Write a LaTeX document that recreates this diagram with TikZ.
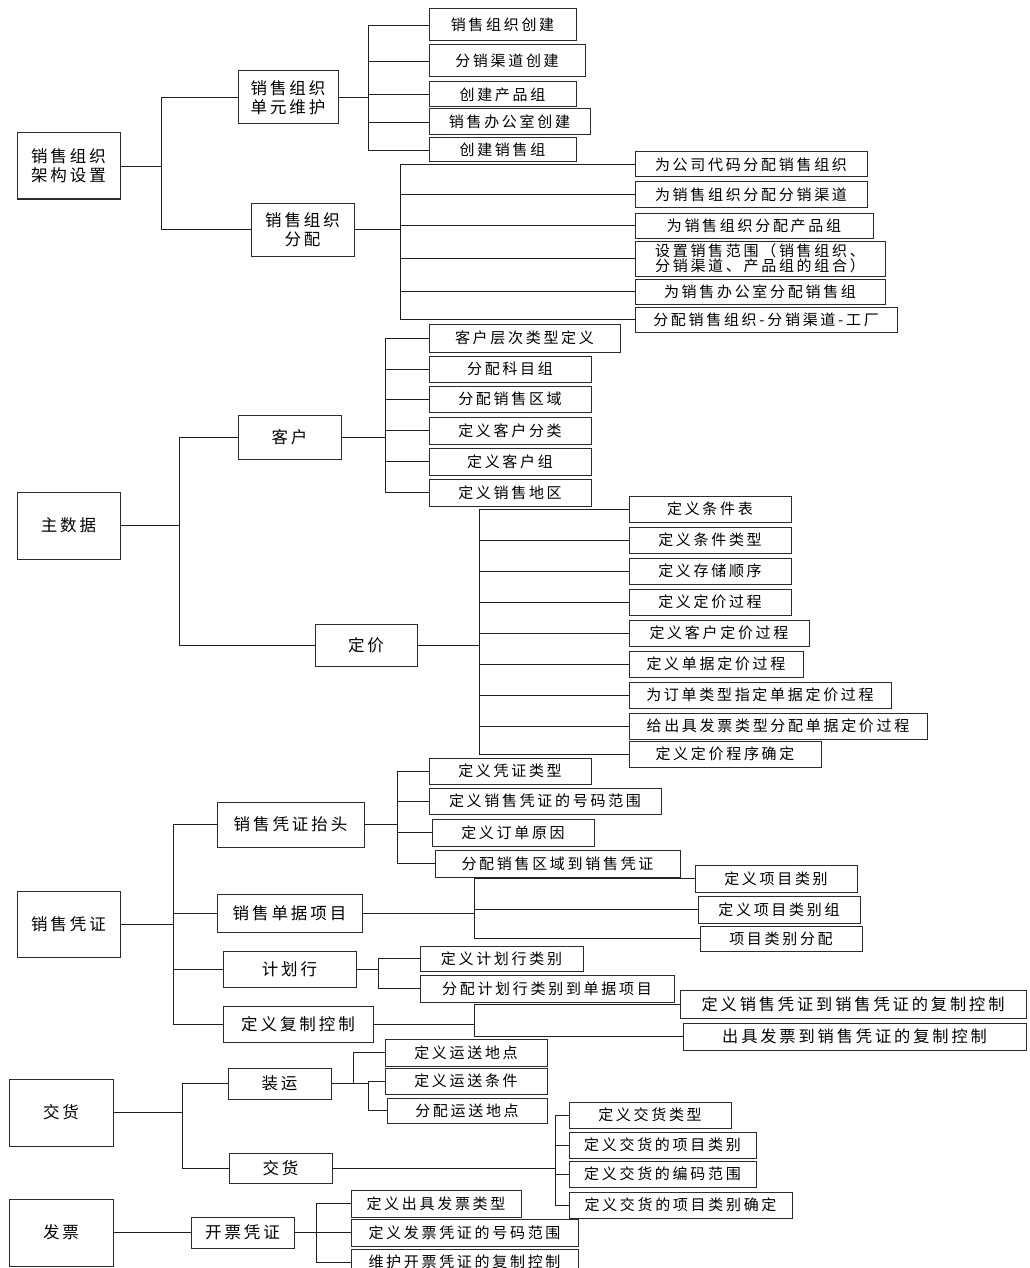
\documentclass[tikz,border=0pt]{standalone}
\usepackage{fontspec}
\setmainfont{Noto Sans CJK SC}[LetterSpace=18]
\usepackage{xcolor}
\definecolor{cfgBorder}{HTML}{2B2B2B}
\definecolor{cfgLine}{HTML}{1E1E1E}

\begin{document}
\begin{tikzpicture}[
        x=1pt, y=-1pt,
        root/.style={
            draw=cfgBorder,
            line width=1pt,
            fill=white,
            inner sep=0pt,
            minimum width=103,
            minimum height=66,
            align=center,
            font=\fontsize{16.5}{19}\selectfont
        },
        sub/.style={
            draw=cfgBorder,
            line width=1pt,
            fill=white,
            inner sep=0pt,
            minimum width=103,
            align=center,
            font=\fontsize{16.5}{19}\selectfont
        },
        leaf/.style={
            draw=cfgBorder,
            line width=1pt,
            fill=white,
            inner sep=0pt,
            minimum width=162,
            minimum height=26,
            align=center,
            font=\fontsize{15}{16}\selectfont
        },
        link/.style={
            draw=cfgLine,
            line width=0.8pt
        },
        boldlink/.style={
            draw=cfgLine,
            line width=1.7pt
        }
    ]
    \clip (0,0) rectangle (1029,1268);

    % --- 销售组织架构设置 ---
    \node[root] (orgsetup) at (68.5,166) {销售组织\\架构设置};
    \node[sub, minimum width=100, minimum height=53] (orgunit) at (288,97.5) {销售组织\\单元维护};
    \node[sub, minimum height=53] (orgassign) at (302.5,229.5) {销售组织\\分配};

    \node[leaf, minimum width=147, minimum height=32] (ou1) at (502.5,25) {销售组织创建};
    \node[leaf, minimum width=156, minimum height=32] (ou2) at (507,61) {分销渠道创建};
    \node[leaf, minimum width=147, minimum height=25] (ou3) at (502.5,94.5) {创建产品组};
    \node[leaf, minimum width=161] (ou4) at (509.5,122) {销售办公室创建};
    \node[leaf, minimum width=147, minimum height=24] (ou5) at (502.5,150) {创建销售组};

    \node[leaf, minimum width=232, minimum height=25] (oa1) at (751,164.5) {为公司代码分配销售组织};
    \node[leaf, minimum width=232, minimum height=25] (oa2) at (751,194.5) {为销售组织分配分销渠道};
    \node[leaf, minimum width=238, minimum height=25] (oa3) at (754,225.5) {为销售组织分配产品组};
    \node[leaf, minimum width=250, minimum height=35, font=\fontsize{15}{15.5}\selectfont] (oa4) at (760,258.5)
        {设置销售范围（销售组织、\\分销渠道、产品组的组合）};
    \node[leaf, minimum width=250, minimum height=25] (oa5) at (760,291.5) {为销售办公室分配销售组};
    \node[leaf, minimum width=262, minimum height=25] (oa6) at (766,319.5) {分配销售组织-分销渠道-工厂};

    \coordinate (orgBar) at (161,166);
    \coordinate (unitBar) at (368,97.5);
    \coordinate (assignBar) at (400,229.5);
    \draw[link] (orgsetup.east) -- (orgBar);
    \draw[link] (orgBar) |- (orgunit.west);
    \draw[link] (orgBar) |- (orgassign.west);
    \draw[link] (orgunit.east) -- (unitBar);
    \draw[link] (unitBar) |- (ou1.west);
    \draw[link] (unitBar) |- (ou2.west);
    \draw[link] (unitBar) |- (ou3.west);
    \draw[link] (unitBar) |- (ou4.west);
    \draw[link] (unitBar) |- (ou5.west);
    \draw[link] (orgassign.east) -- (assignBar);
    \draw[link] (assignBar) |- (oa1.west);
    \draw[link] (assignBar) |- (oa2.west);
    \draw[link] (assignBar) |- (oa3.west);
    \draw[link] (assignBar) |- (oa4.west);
    \draw[link] (assignBar) |- (oa5.west);
    \draw[link] (assignBar) |- (oa6.west);

    % --- 主数据 ---
    \node[root, minimum height=67] (masterdata) at (68.5,525.5) {主数据};
    \node[sub, minimum height=44] (customer) at (289.5,437) {客户};
    \node[sub, minimum width=102, minimum height=42] (pricing) at (366,645) {定价};

    \node[leaf, minimum width=191, minimum height=28] (cu1) at (524.5,338) {客户层次类型定义};
    \node[leaf] (cu2) at (510,369) {分配科目组};
    \node[leaf] (cu3) at (510,399) {分配销售区域};
    \node[leaf, minimum height=27] (cu4) at (510,430.5) {定义客户分类};
    \node[leaf, minimum height=27] (cu5) at (510,461.5) {定义客户组};
    \node[leaf, minimum height=27] (cu6) at (510,492.5) {定义销售地区};

    \node[leaf] (pr1) at (710,509) {定义条件表};
    \node[leaf] (pr2) at (710,540) {定义条件类型};
    \node[leaf] (pr3) at (710,571) {定义存储顺序};
    \node[leaf] (pr4) at (710,602) {定义定价过程};
    \node[leaf, minimum width=180] (pr5) at (719,633) {定义客户定价过程};
    \node[leaf, minimum width=174] (pr6) at (716,664) {定义单据定价过程};
    \node[leaf, minimum width=262] (pr7) at (760,695) {为订单类型指定单据定价过程};
    \node[leaf, minimum width=298] (pr8) at (778,726) {给出具发票类型分配单据定价过程};
    \node[leaf, minimum width=192] (pr9) at (725,754) {定义定价程序确定};

    \coordinate (masterBar) at (179,525.5);
    \coordinate (customerBar) at (385,437);
    \coordinate (pricingBar) at (479,645);
    \draw[link] (masterdata.east) -- (masterBar);
    \draw[link] (masterBar) |- (customer.west);
    \draw[link] (masterBar) |- (pricing.west);
    \draw[link] (customer.east) -- (customerBar);
    \draw[link] (customerBar) |- (cu1.west);
    \draw[link] (customerBar) |- (cu2.west);
    \draw[link] (customerBar) |- (cu3.west);
    \draw[link] (customerBar) |- (cu4.west);
    \draw[link] (customerBar) |- (cu5.west);
    \draw[link] (customerBar) |- (cu6.west);
    \draw[link] (pricing.east) -- (pricingBar);
    \draw[link] (pricingBar) |- (pr1.west);
    \draw[link] (pricingBar) |- (pr2.west);
    \draw[link] (pricingBar) |- (pr3.west);
    \draw[link] (pricingBar) |- (pr4.west);
    \draw[link] (pricingBar) |- (pr5.west);
    \draw[link] (pricingBar) |- (pr6.west);
    \draw[link] (pricingBar) |- (pr7.west);
    \draw[link] (pricingBar) |- (pr8.west);
    \draw[link] (pricingBar) |- (pr9.west);

    % --- 销售凭证 ---
    \node[root] (salesdoc) at (68.5,924) {销售凭证};
    \node[sub, minimum width=147, minimum height=45] (header) at (290.5,824.5) {销售凭证抬头};
    \node[sub, minimum width=145, minimum height=38] (item) at (289.5,913) {销售单据项目};
    \node[sub, minimum width=133, minimum height=36] (schedule) at (289.5,969) {计划行};
    \node[sub, minimum width=150, minimum height=36] (copyctrl) at (298,1024) {定义复制控制};

    \node[leaf] (hd1) at (510,771) {定义凭证类型};
    \node[leaf, minimum width=232] (hd2) at (545,801) {定义销售凭证的号码范围};
    \node[leaf, minimum height=27] (hd3) at (513,832.5) {定义订单原因};
    \node[leaf, minimum width=245, minimum height=27] (hd4) at (557.5,863.5) {分配销售区域到销售凭证};

    \node[leaf, minimum height=27] (it1) at (776,878.5) {定义项目类别};
    \node[leaf, minimum height=27] (it2) at (779,909.5) {定义项目类别组};
    \node[leaf, minimum height=25] (it3) at (781,938.5) {项目类别分配};

    \node[leaf, minimum width=163, minimum height=25] (sc1) at (501.5,958.5) {定义计划行类别};
    \node[leaf, minimum width=254, minimum height=27] (sc2) at (547,988.5) {分配计划行类别到单据项目};

    \node[leaf, minimum width=346, minimum height=28, font=\fontsize{16.2}{17}\selectfont] (cc1) at (853,1004) {定义销售凭证到销售凭证的复制控制};
    \node[leaf, minimum width=343, minimum height=27, font=\fontsize{16.2}{17}\selectfont] (cc2) at (854.5,1036.5) {出具发票到销售凭证的复制控制};

    \coordinate (salesBar) at (173,924);
    \coordinate (headerBar) at (397,824.5);
    \coordinate (itemBar) at (474,913);
    \coordinate (scheduleBar) at (378,969);
    \coordinate (copyBar) at (474,1024);
    \draw[link] (salesdoc.east) -- (salesBar);
    \draw[link] (salesBar) |- (header.west);
    \draw[link] (salesBar) |- (item.west);
    \draw[link] (salesBar) |- (schedule.west);
    \draw[link] (salesBar) |- (copyctrl.west);
    \draw[link] (header.east) -- (headerBar);
    \draw[link] (headerBar) |- (hd1.west);
    \draw[link] (headerBar) |- (hd2.west);
    \draw[link] (headerBar) |- (hd3.west);
    \draw[link] (headerBar) |- (hd4.west);
    \draw[link] (item.east) -- (itemBar);
    \draw[link] (itemBar) |- (it1.west);
    \draw[link] (itemBar) |- (it2.west);
    \draw[link] (itemBar) |- (it3.west);
    \draw[link] (schedule.east) -- (scheduleBar);
    \draw[link] (scheduleBar) |- (sc1.west);
    \draw[link] (scheduleBar) |- (sc2.west);
    \draw[link] (copyctrl.east) -- (copyBar);
    \draw[link] (copyBar) |- (cc1.west);
    \draw[link] (copyBar) |- (cc2.west);

    % --- 交货 ---
    \node[root, minimum width=104, minimum height=67] (delivery) at (61,1112.5) {交货};
    \node[sub, minimum height=31] (shipping) at (279.5,1083.5) {装运};
    \node[sub, minimum height=30] (delivsub) at (280.5,1168) {交货};

    \node[leaf, minimum height=27] (sh1) at (466,1052.5) {定义运送地点};
    \node[leaf] (sh2) at (466,1081) {定义运送条件};
    \node[leaf, minimum width=160, minimum height=25] (sh3) at (467,1110.5) {分配运送地点};

    \node[leaf] (dl1) at (650,1115) {定义交货类型};
    \node[leaf, minimum width=187] (dl2) at (662.5,1145) {定义交货的项目类别};
    \node[leaf, minimum width=187] (dl3) at (662.5,1174) {定义交货的编码范围};
    \node[leaf, minimum width=223] (dl4) at (680.5,1205) {定义交货的项目类别确定};

    \coordinate (deliveryBar) at (182,1112.5);
    \coordinate (shipBarA) at (353,1083.5);
    \coordinate (shipBarB) at (368,1083.5);
    \coordinate (delivBar) at (555,1168);
    \draw[boldlink] (delivery.east) -- (deliveryBar);
    \draw[link] (deliveryBar) |- (shipping.west);
    \draw[link] (deliveryBar) |- (delivsub.west);
    \draw[boldlink] (shipping.east) -- (shipBarB);
    \draw[link] (shipBarA) |- (sh1.west);
    \draw[link] (shipBarB) |- (sh2.west);
    \draw[link] (shipBarB) |- (sh3.west);
    \draw[link] (delivsub.east) -- (delivBar);
    \draw[link] (delivBar) |- (dl1.west);
    \draw[link] (delivBar) |- (dl2.west);
    \draw[link] (delivBar) |- (dl3.west);
    \draw[link] (delivBar) |- (dl4.west);

    % --- 发票 ---
    \node[root, minimum width=104, minimum height=67] (billing) at (61,1232.5) {发票};
    \node[sub, minimum height=31] (billdoc) at (242.5,1232.5) {开票凭证};

    \node[leaf, minimum width=170, minimum height=27] (bd1) at (436,1203.5) {定义出具发票类型};
    \node[leaf, minimum width=227, minimum height=27] (bd2) at (464.5,1232.5) {定义发票凭证的号码范围};
    \node[leaf, minimum width=227] (bd3) at (464.5,1262) {维护开票凭证的复制控制};

    \coordinate (billBar) at (316,1232.5);
    \draw[link] (billing.east) -- (billdoc.west);
    \draw[link] (billdoc.east) -- (billBar);
    \draw[link] (billBar) |- (bd1.west);
    \draw[link] (billBar) |- (bd2.west);
    \draw[link] (billBar) |- (bd3.west);

\end{tikzpicture}
\end{document}
